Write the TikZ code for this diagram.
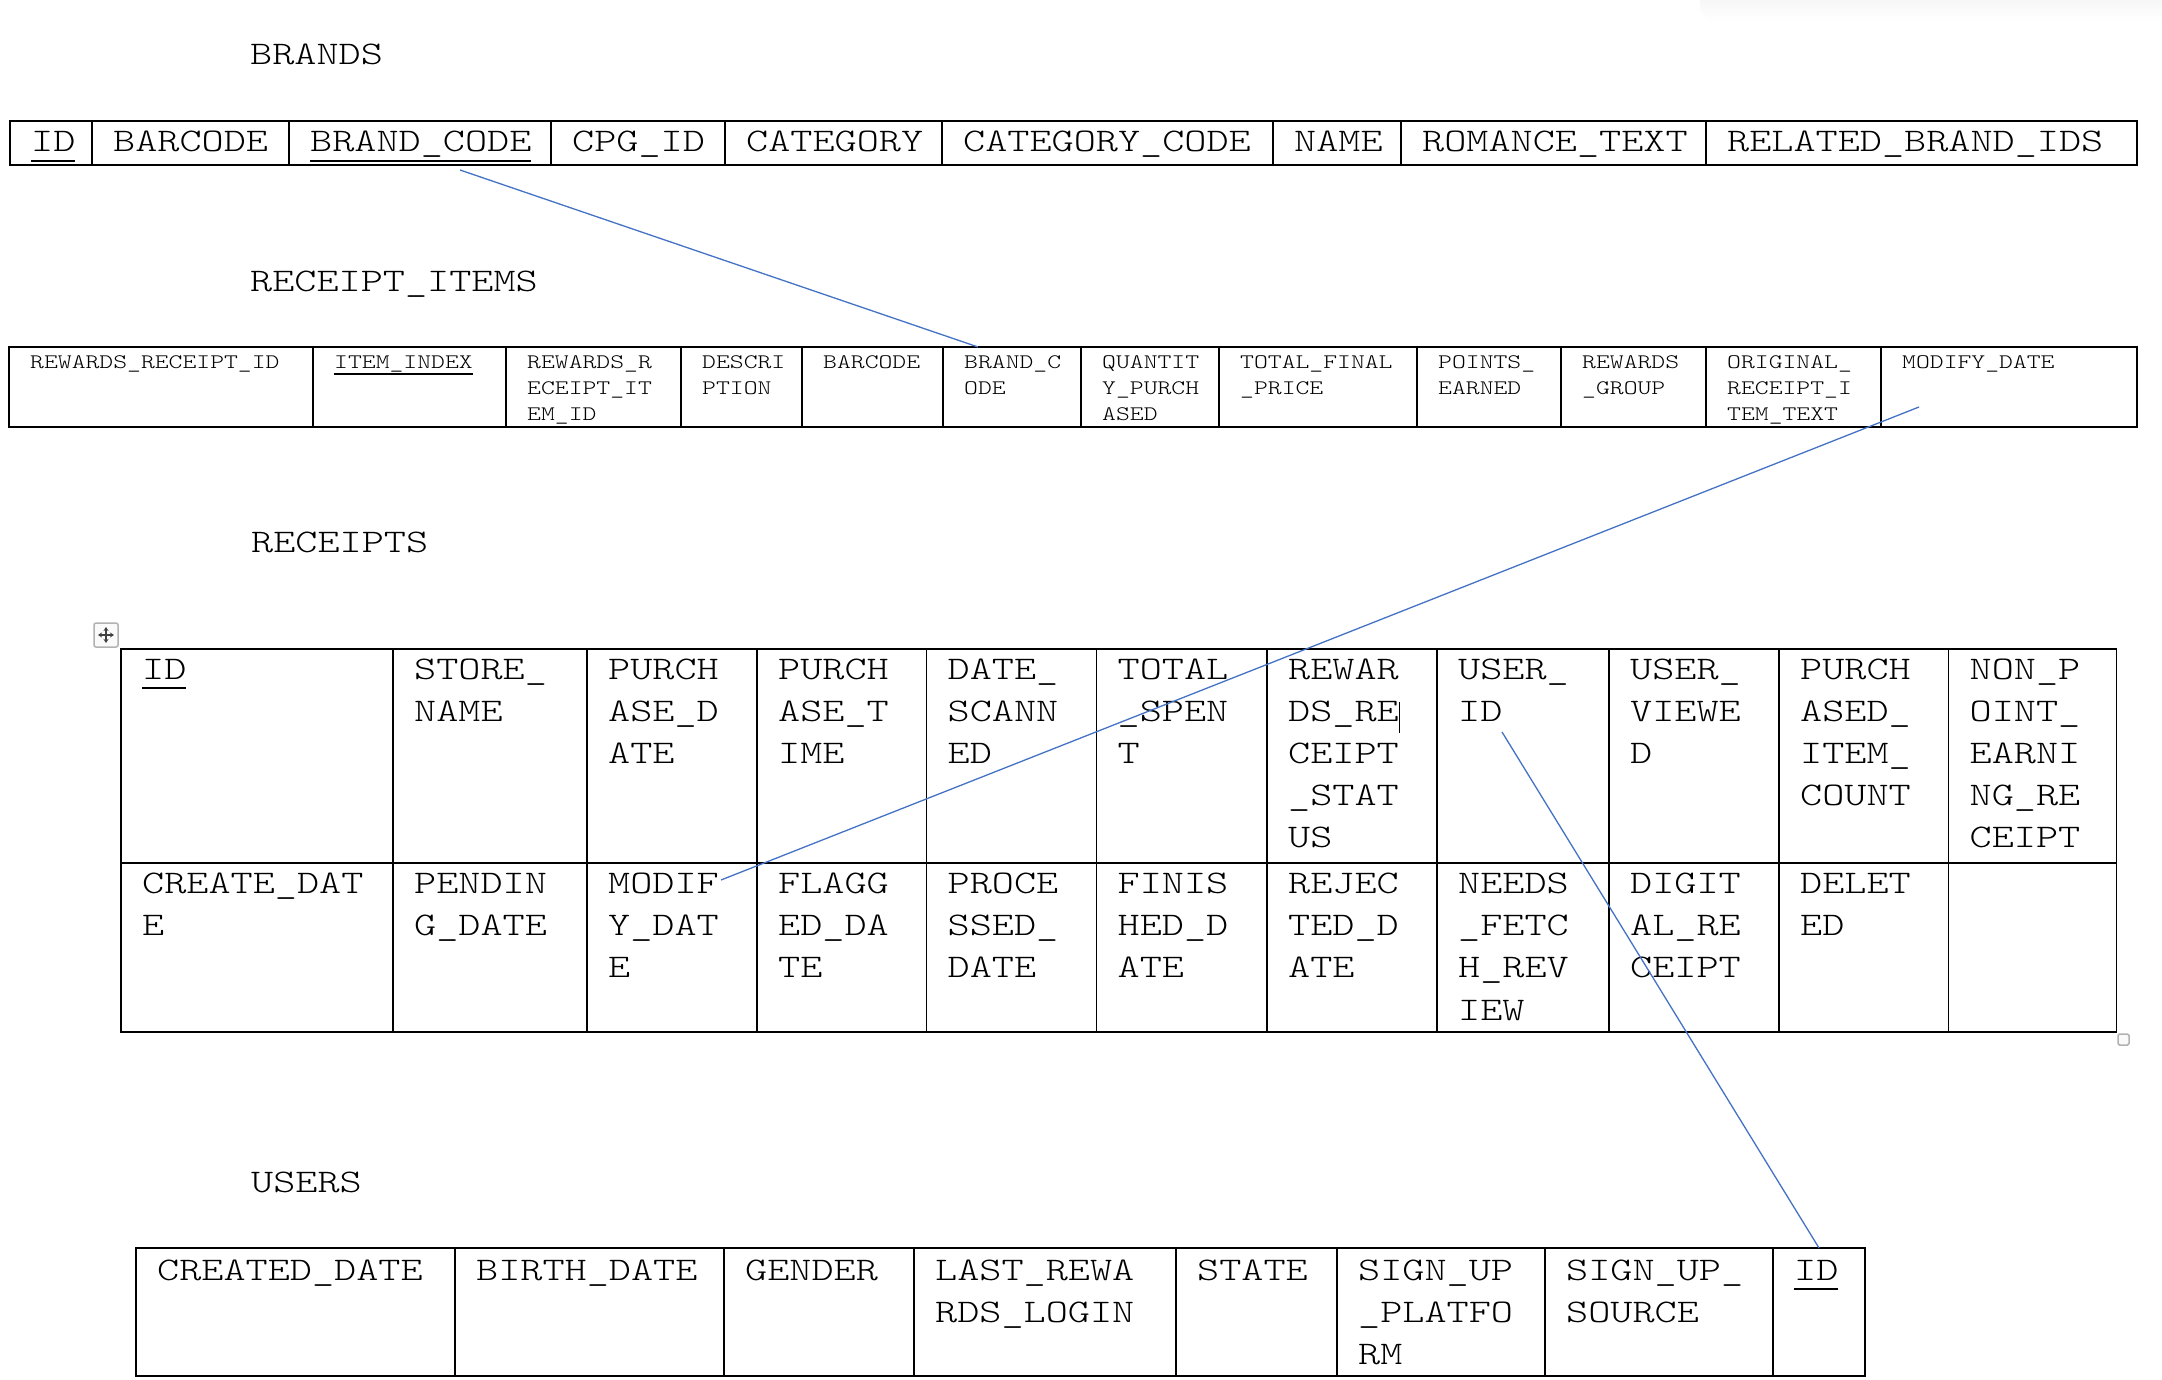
\documentclass[tikz,border=0pt]{standalone}
\usepackage{fontspec}
\usepackage{xcolor}
\usepackage{tikz}
\usetikzlibrary{arrows.meta}
\newfontfamily\ermono{lmmonolt10-regular.otf}[FakeStretch=1.277]
\newcommand\keyfield[1]{\setbox0=\hbox{#1}\rlap{\rule[-.3em]{\wd0}{.07em}}\box0}
\newcommand\caretmark{\rule[-.36em]{.04em}{.95em}}
\newcommand\toprows[1]{\vtop{\let\\\cr\halign{##\hfil\cr#1\crcr}}}
\definecolor{linkblue}{HTML}{4472C4}

\begin{document}
\begin{tikzpicture}[x=1pt, y=-1pt,
	cell/.style={
		draw, line width=1.8pt, outer sep=0pt, inner sep=0pt, anchor=north west
	},
	bigtext/.style={
		font=\ermono\fontsize{33}{42.2}\selectfont, anchor=base west, inner sep=0pt
	},
	smalltext/.style={
		font=\ermono\fontsize{20.66}{25.8}\selectfont, anchor=base west, inner sep=0pt
	},
	fk/.style={linkblue, line width=1.3pt},
	handletip/.style={{Stealth[length=4pt,width=5pt]}-{Stealth[length=4pt,width=5pt]}}
]
\fill[white] (0,0) rectangle (2162,1380);
\useasboundingbox (0,0) rectangle (2162,1380);
\shade[top color=black!6, bottom color=white, rounded corners=18pt]
	(1700,-20) -- (1700,22) -- (2190,22) -- (2190,-20) -- cycle;

% table titles
\node[bigtext] (t-brands) at (250,65) {BRANDS};
\node[bigtext] (t-items) at (250,291.7) {RECEIPT\_ITEMS};
\node[bigtext] (t-receipts) at (251,552.6) {RECEIPTS};
\node[bigtext] (t-users) at (251,1192) {USERS};

% BRANDS
\foreach \xa/\xb/\txt [count=\i] in {
	10/92/{\keyfield{ID}}, 92/289/{BARCODE}, 289/551/{\keyfield{BRAND\_CODE}},
	551/725/{CPG\_ID}, 725/942/{CATEGORY}, 942/1273/{CATEGORY\_CODE},
	1273/1401/{NAME}, 1401/1706/{ROMANCE\_TEXT}, 1706/2137/{RELATED\_BRAND\_IDS}
} {
	\node[cell, minimum width={(\xb-\xa)*1pt}, minimum height=44pt] (b-\i) at (\xa,121) {};
	\node[bigtext] (b-\i-t) at ([shift={(21,31)}]b-\i.north west) {\txt};
}

% RECEIPT_ITEMS
\foreach \xa/\xb/\txt [count=\i] in {
	9/313/{REWARDS\_RECEIPT\_ID}, 313/506/{\keyfield{ITEM\_INDEX}},
	506/681/{REWARDS\_R\\ECEIPT\_IT\\EM\_ID}, 681/802/{DESCRI\\PTION},
	802/943/{BARCODE}, 943/1081/{BRAND\_C\\ODE}, 1081/1219/{QUANTIT\\Y\_PURCH\\ASED},
	1219/1417/{TOTAL\_FINAL\\\_PRICE}, 1417/1561/{POINTS\_\\EARNED},
	1561/1706/{REWARDS\\\_GROUP}, 1706/1881/{ORIGINAL\_\\RECEIPT\_I\\TEM\_TEXT},
	1881/2137/{MODIFY\_DATE}
} {
	\node[cell, minimum width={(\xb-\xa)*1pt}, minimum height=80pt] (ri-\i) at (\xa,347) {};
	\node[smalltext] (ri-\i-t) at ([shift={(21,21.6)}]ri-\i.north west) {\toprows{\txt}};
}

% RECEIPTS, two rows
\foreach \xa/\xb/\ta/\tb [count=\i] in {
	121/393/{\keyfield{ID}}/{CREATE\_DAT\\E},
	393/587/{STORE\_\\NAME}/{PENDIN\\G\_DATE},
	587/757/{PURCH\\ASE\_D\\ATE}/{MODIF\\Y\_DAT\\E},
	757/926.5/{PURCH\\ASE\_T\\IME}/{FLAGG\\ED\_DA\\TE},
	926.5/1096.5/{DATE\_\\SCANN\\ED}/{PROCE\\SSED\_\\DATE},
	1096.5/1267/{TOTAL\\\_SPEN\\T}/{FINIS\\HED\_D\\ATE},
	1267/1437/{REWAR\\DS\_RE\caretmark\\CEIPT\\\_STAT\\US}/{REJEC\\TED\_D\\ATE},
	1437/1609/{USER\_\\ID}/{NEEDS\\\_FETC\\H\_REV\\IEW},
	1609/1779/{USER\_\\VIEWE\\D}/{DIGIT\\AL\_RE\\CEIPT},
	1779/1948.5/{PURCH\\ASED\_\\ITEM\_\\COUNT}/{DELET\\ED},
	1948.5/2116.5/{NON\_P\\OINT\_\\EARNI\\NG\_RE\\CEIPT}/{}
} {
	\node[cell, minimum width={(\xb-\xa)*1pt}, minimum height=214pt] (r-1-\i) at (\xa,649) {};
	\node[cell, minimum width={(\xb-\xa)*1pt}, minimum height=169pt] (r-2-\i) at (\xa,863) {};
	\node[bigtext] (r-1-\i-t) at ([shift={(21,30)}]r-1-\i.north west) {\toprows{\ta}};
	\node[bigtext] (r-2-\i-t) at ([shift={(21,30.5)}]r-2-\i.north west) {\toprows{\tb}};
}
\draw[line width=2.2pt] (r-1-1.south west) -- (r-1-11.south east);

% USERS
\foreach \xa/\xb/\txt [count=\i] in {
	136/455/{CREATED\_DATE}, 455/724/{BIRTH\_DATE}, 724/914/{GENDER},
	914/1176/{LAST\_REWA\\RDS\_LOGIN}, 1176/1337/{STATE},
	1337/1545/{SIGN\_UP\\\_PLATFO\\RM}, 1545/1773/{SIGN\_UP\_\\SOURCE},
	1773/1865/{\keyfield{ID}}
} {
	\node[cell, minimum width={(\xb-\xa)*1pt}, minimum height=128pt] (u-\i) at (\xa,1248) {};
	\node[bigtext] (u-\i-t) at ([shift={(21,32)}]u-\i.north west) {\toprows{\txt}};
}

% table handles
\node[draw=gray!60, fill=gray!4, line width=1.5pt, rounded corners=2pt, outer sep=0pt,
	minimum size=24pt] (movebox) at (106,635) {};
\draw[handletip, line width=1.2pt, black!75] ([xshift=-8pt]movebox.center) -- ([xshift=8pt]movebox.center);
\draw[handletip, line width=1.2pt, black!75] ([yshift=-8pt]movebox.center) -- ([yshift=8pt]movebox.center);
\node[draw=gray!60, fill=gray!4, line width=1.5pt, rounded corners=1.5pt, outer sep=0pt,
	minimum size=11pt] (sizebox) at (2123.5,1039.5) {};

% links
\draw[fk] ([shift={(40,5)}]b-3.south) -- ([xshift=35pt]ri-6.north west);
\draw[fk] ([shift={(38,-20)}]ri-12.south west) -- ([shift={(134,17)}]r-2-3.north west);
\draw[fk] ([shift={(65,83)}]r-1-8.north west) -- (u-8.north);
\end{tikzpicture}
\end{document}
